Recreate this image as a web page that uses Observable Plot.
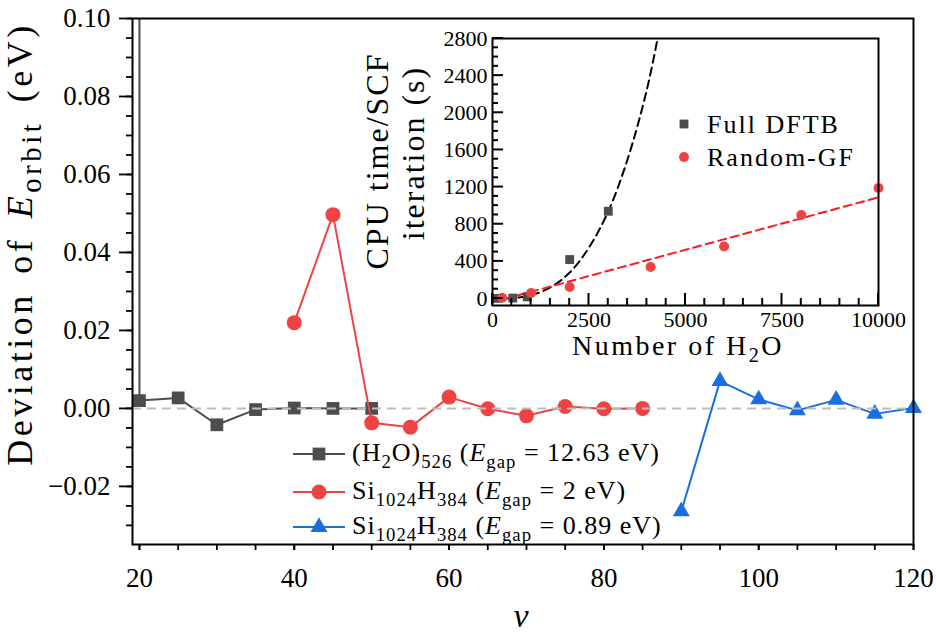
<!DOCTYPE html>
<html><head><meta charset="utf-8">
<script src="https://cdn.jsdelivr.net/npm/d3@7"></script>
<script src="https://cdn.jsdelivr.net/npm/@observablehq/plot@0.6"></script>
<style>
body{margin:0;background:#fff;}
#wrap{position:relative;width:936px;height:638px;font-family:"Liberation Serif";}
#wrap svg{position:absolute;overflow:visible;}
</style></head><body><div id="wrap"></div>
<script>
// ---- main chart data ----
const waterV   = [20, 20, 25, 30, 35, 40, 45, 50];
const waterDev = [0.2, 0.0020, 0.0027, -0.0042, -0.0003, 0.0001, 0.0000, 0.0000];
const si2V     = [40, 45, 50, 55, 60, 65, 70, 75, 80, 85];
const si2Dev   = [0.0220, 0.0497, -0.0037, -0.0048, 0.0029, -0.0001, -0.0019, 0.0005, -0.0001, 0.0000];
const si089V   = [90, 95, 100, 105, 110, 115, 120];
const si089Dev = [-0.0264, 0.0070, 0.0023, -0.0005, 0.0022, -0.0014, 0.0001];
const xTicks = [20, 40, 60, 80, 100, 120];
const yTicks = [-0.02, 0, 0.02, 0.04, 0.06, 0.08, 0.10];

// ---- inset data ----
const fullN = [128, 526, 900, 2000, 3000];
const fullT = [2, 5, 18, 420, 940];
const rgfN  = [250, 1000, 2000, 4096, 6000, 8000, 10000];
const rgfT  = [8, 60, 125, 340, 560, 900, 1190];
const fullFitN = [0, 500, 1000, 1500, 2000, 2500, 3000, 3500, 4000, 4300];
const fullFitT = [0, 4, 36, 120, 280, 550, 940, 1500, 2250, 2850];
const rgfFitN = [0, 10000];
const rgfFitT = [-40, 1090];
const insetXTicks = [0, 2500, 5000, 7500, 10000];
const insetYTicks = [0, 400, 800, 1200, 1600, 2000, 2400, 2800];

const legendLabels = [
  [{t:"(H"},{t:"2",sub:1},{t:"O)"},{t:"526",sub:1},{t:" ("},{t:"E",it:1},{t:"gap",sub:1},{t:" = 12.63 eV)"}],
  [{t:"Si"},{t:"1024",sub:1},{t:"H"},{t:"384",sub:1},{t:" ("},{t:"E",it:1},{t:"gap",sub:1},{t:" = 2 eV)"}],
  [{t:"Si"},{t:"1024",sub:1},{t:"H"},{t:"384",sub:1},{t:" ("},{t:"E",it:1},{t:"gap",sub:1},{t:" = 0.89 eV)"}]
];
const yLabel = [{t:"Deviation of "},{t:"E",it:1},{t:"orbit",sub:1},{t:" (eV)"}];
const insetXLabel = [{t:"Number of H"},{t:"2",sub:1},{t:"O"}];
const insetYLabel = ["CPU time/SCF", "iteration (s)"];
const insetLegend = ["Full DFTB", "Random-GF"];

const GRAY = "#4d4d4d", RED = "#ef4343", BLUE = "#1a6fe0";
const FONT = "Liberation Serif";

const zip = (xs, ys) => xs.map((x, i) => ({x, y: ys[i]}));
const water = zip(waterV, waterDev), si2 = zip(si2V, si2Dev), si089 = zip(si089V, si089Dev);
const yDom = [-0.0349, 0.1];
const inside = d => d.y >= yDom[0] && d.y <= yDom[1];

const wrap = document.getElementById("wrap");

const main = Plot.plot({
  width: 936, height: 638,
  marginLeft: 132, marginRight: 23, marginTop: 18, marginBottom: 94,
  style: {fontFamily: FONT, background: "white", color: "black"},
  x: {domain: [19.1, 120]},
  y: {domain: yDom},
  marks: [
    Plot.axisY({ticks: yTicks, tickSize: 13, tickPadding: 9, fontSize: 27, strokeWidth: 1.8, tickFormat: d3.format(".2f"), label: null}),
    Plot.axisY({ticks: d3.range(-30, 101, 5).map(k => k / 1000), tickSize: 6, strokeWidth: 1.8, tickFormat: () => "", label: null}),
    Plot.axisX({ticks: xTicks, tickSize: 6, tickPadding: 17, fontSize: 27, strokeWidth: 1.8, label: null}),
    Plot.axisX({ticks: d3.range(20, 121, 5), tickSize: 6, strokeWidth: 1.8, tickFormat: () => "", label: null}),
    Plot.line(water, {x: "x", y: "y", stroke: GRAY, strokeWidth: 2, clip: true}),
    Plot.dot(water.filter(inside), {x: "x", y: "y", symbol: "square", r: 7.2, fill: GRAY}),
    Plot.line(si2, {x: "x", y: "y", stroke: RED, strokeWidth: 2, clip: true}),
    Plot.dot(si2, {x: "x", y: "y", symbol: "circle", r: 7.5, fill: RED}),
    Plot.line(si089, {x: "x", y: "y", stroke: BLUE, strokeWidth: 2, clip: true}),
    Plot.dot(si089, {x: "x", y: "y", symbol: "triangle", r: 6.3, fill: BLUE}),
    Plot.ruleY([0], {stroke: "#bdbdbd", strokeWidth: 2, strokeDasharray: "9,6"}),
    Plot.frame({stroke: "black", strokeWidth: 2})
  ]
});
main.style.left = "0px"; main.style.top = "0px";
wrap.appendChild(main);

function rich(sel, parts, size, subScale = 0.72) {
  let shifted = false;
  for (const p of parts) {
    const ts = sel.append("tspan").text(p.t);
    if (p.sub && !shifted) { ts.attr("dy", size * 0.26); shifted = true; }
    else if (!p.sub && shifted) { ts.attr("dy", -size * 0.26); shifted = false; }
    if (p.sub) ts.attr("font-size", size * subScale);
    if (p.it) ts.attr("font-style", "italic");
  }
}

const ms = d3.select(main);
// y label
rich(ms.append("text").attr("transform", "translate(32,244) rotate(-90)")
  .attr("text-anchor", "middle").attr("font-family", FONT).attr("font-size", 36)
  .attr("letter-spacing", 3.5).attr("word-spacing", 6).attr("fill", "black"), yLabel, 36, 0.8);
// x label
ms.append("text").attr("x", 521).attr("y", 627).attr("text-anchor", "middle")
  .attr("font-family", FONT).attr("font-size", 34).attr("font-style", "italic").attr("fill", "black").text("v");

// legend
const legColors = [GRAY, RED, BLUE], legSyms = [d3.symbolSquare, d3.symbolCircle, d3.symbolTriangle], legR = [7.2, 7.5, 6.3];
const legY = [454, 492, 527];
legendLabels.forEach((parts, i) => {
  const g = ms.append("g");
  g.append("line").attr("x1", 293).attr("x2", 345).attr("y1", legY[i]).attr("y2", legY[i])
    .attr("stroke", legColors[i]).attr("stroke-width", 2);
  g.append("path").attr("transform", `translate(319,${legY[i]})`)
    .attr("d", d3.symbol(legSyms[i], Math.PI * legR[i] * legR[i])()).attr("fill", legColors[i]);
  rich(g.append("text").attr("x", 352).attr("y", legY[i] + 7).attr("text-anchor", "start")
    .attr("font-family", FONT).attr("font-size", 26).attr("letter-spacing", 1).attr("fill", "black"), parts, 26);
});

// ---- inset ----
const full = zip(fullN, fullT), rgf = zip(rgfN, rgfT);
const fullFit = zip(fullFitN, fullFitT), rgfFit = zip(rgfFitN, rgfFitT);
const IW = 560, IH = 370, IL = 152, IR = 22, IT = 38, IB = 65;
const inset = Plot.plot({
  width: IW, height: IH,
  marginLeft: IL, marginRight: IR, marginTop: IT, marginBottom: IB,
  style: {fontFamily: FONT, background: "none", color: "black"},
  x: {domain: [0, 10000]},
  y: {domain: [-75, 2800]},
  marks: [
    Plot.axisY({ticks: insetYTicks, tickSize: 0, tickPadding: 5, fontSize: 22, tickFormat: d3.format("d"), label: null}),
    Plot.axisX({ticks: insetXTicks, tickSize: 0, tickPadding: 6, fontSize: 22, tickFormat: d3.format("d"), label: null}),
    Plot.line(fullFit, {x: "x", y: "y", stroke: "black", strokeWidth: 2, strokeDasharray: "8,5", curve: "catmull-rom", clip: true}),
    Plot.line(rgfFit, {x: "x", y: "y", stroke: "#ff1a1a", strokeWidth: 2, strokeDasharray: "8,5", clip: true}),
    Plot.dot(full, {x: "x", y: "y", symbol: "square", r: 5, fill: GRAY}),
    Plot.dot(rgf, {x: "x", y: "y", symbol: "circle", r: 5, fill: RED}),
    Plot.frame({stroke: "black", strokeWidth: 2})
  ]
});
inset.style.left = "340px"; inset.style.top = "0px";
wrap.appendChild(inset);
const is = d3.select(inset);

// inward ticks placed with the inset's own Plot scales
const isx = inset.scale("x"), isy = inset.scale("y");
const tickG = is.append("g").attr("stroke", "black").attr("stroke-width", 2);
d3.range(0, 2801, 100).forEach(v => {
  const y = isy.apply(v), len = v % 400 === 0 ? 11 : 6;
  tickG.append("line").attr("x1", IL).attr("x2", IL + len).attr("y1", y).attr("y2", y);
});
d3.range(0, 10001, 500).forEach(v => {
  const x = isx.apply(v), len = v % 2500 === 0 ? 12 : 7;
  tickG.append("line").attr("x1", x).attr("x2", x).attr("y1", IH - IB).attr("y2", IH - IB - len);
});

const ylx = [48, 84], yly = [161, 153];
insetYLabel.forEach((t, i) => {
  is.append("text").attr("transform", `translate(${ylx[i]},${yly[i]}) rotate(-90)`)
    .attr("text-anchor", "middle").attr("font-family", FONT).attr("font-size", 32)
    .attr("letter-spacing", 2).attr("fill", "black").text(t);
});
rich(is.append("text").attr("x", 338).attr("y", 355).attr("text-anchor", "middle")
  .attr("font-family", FONT).attr("font-size", 28).attr("letter-spacing", 2.5).attr("fill", "black"), insetXLabel, 28);
const ilColors = [GRAY, RED], ilSyms = [d3.symbolSquare, d3.symbolCircle], ilY = [124, 157];
insetLegend.forEach((t, i) => {
  is.append("path").attr("transform", `translate(344,${ilY[i]})`)
    .attr("d", d3.symbol(ilSyms[i], Math.PI * 25)()).attr("fill", ilColors[i]);
  is.append("text").attr("x", 367).attr("y", ilY[i] + 9).attr("text-anchor", "start")
    .attr("font-family", FONT).attr("font-size", 26).attr("letter-spacing", 2).attr("fill", "black").text(t);
});
</script></body></html>
